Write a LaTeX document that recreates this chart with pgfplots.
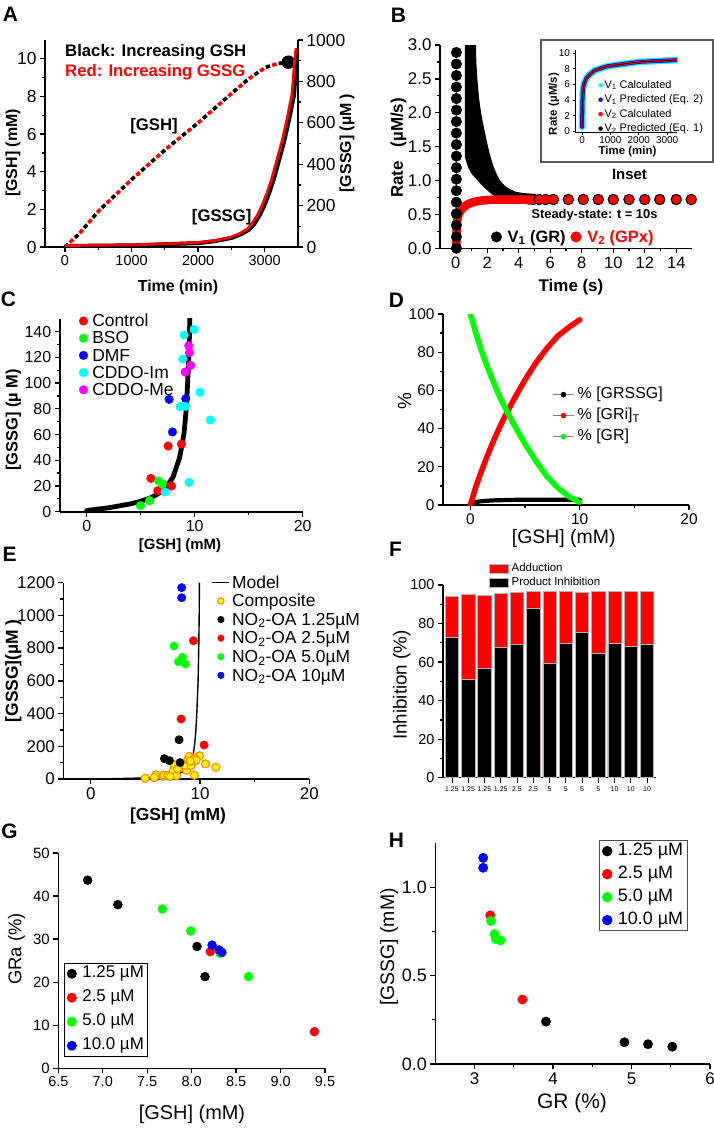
\documentclass[border=0pt]{standalone}
\usepackage{fontspec}
\setmainfont{Liberation Sans}
\usepackage{pgfplots}
\pgfplotsset{compat=1.18}
\newcommand{\fs}[1]{\fontsize{#1}{#1}\selectfont}
\definecolor{orng}{RGB}{255,140,0}
\definecolor{ccyan}{RGB}{0,255,255}
\definecolor{mmag}{RGB}{255,0,255}
\definecolor{yyel}{RGB}{255,255,0}
\definecolor{ggreen}{RGB}{0,255,0}
\pgfplotsset{
  base/.style={scale only axis, anchor=north west,
    axis x line*=bottom, axis y line*=left,
    axis line style={line width=1.6bp, black},
    every tick/.style={black, line width=1.3bp},
    major tick length=5bp, minor tick length=3bp, tick align=outside,
    /pgf/number format/assume math mode=true,
    /pgf/number format/1000 sep={},
    legend cell align=left,
    legend style={draw=none, fill=none}},
  mleg/.style={legend image code/.code={\draw[##1] plot coordinates {(#1,0bp)};}},
  lleg/.style={legend image code/.code={\draw[##1] (0bp,0bp) -- (#1,0bp);}},
  dleg/.style={legend image code/.code={\draw[gray, line width=0.5bp] (0bp,0bp) -- (21bp,0bp); \draw[##1] plot coordinates {(10.5bp,0bp)};}},
  bleg/.style={legend image code/.code={\draw[##1] (0bp,-4.5bp) rectangle (19bp,4.5bp);}},
}
\begin{document}
\begin{tikzpicture}
\useasboundingbox (0,0) rectangle (714bp,-1129bp);

% ================= A =================
\begin{axis}[base, at={(45bp,-40bp)}, width=253bp, height=207bp,
  xmin=-300, xmax=3500, ymin=0, ymax=11,
  xtick={0,1000,2000,3000}, minor x tick num=1,
  ytick={0,2,...,10}, minor y tick num=1,
  xticklabel style={font=\fs{14.5}}, yticklabel style={font=\fs{17.5}}]
\addplot[black, line width=3.6bp, dash pattern=on 4.5bp off 9bp] coordinates {
 (0,0.0) (215,0.71) (515,1.95) (1015,3.63) (1515,5.2) (2015,6.64) (2515,8.2) (2765,8.95) (3015,9.55) (3200,9.75) (3355,9.82)};
\addplot[red, line width=3.6bp, dash pattern=on 4.5bp off 9bp, dash phase=6.75bp] coordinates {
 (0,0.0) (215,0.71) (515,1.95) (1015,3.63) (1515,5.2) (2015,6.64) (2515,8.2) (2765,8.95) (3015,9.55) (3200,9.75) (3355,9.82)};
\addplot[only marks, mark=*, mark size=6.5bp, black] coordinates {(3355,9.82)};
\end{axis}
\begin{axis}[base, at={(45bp,-40bp)}, width=253bp, height=207bp,
  xmin=-300, xmax=3500, ymin=0, ymax=1000,
  axis x line=none, axis y line*=right,
  ytick={0,200,...,1000}, minor y tick num=1,
  yticklabel style={font=\fs{17.5}}]
\addplot[black, line width=4bp] coordinates {
 (0,5) (1015,8) (2015,19) (2265,29) (2515,45) (2665,65) (2765,84) (2840,110) (2915,148) (2990,197) (3065,258) (3140,331) (3215,419) (3290,508) (3365,613) (3440,734) (3480,895) (3500,960)};
\addplot[red, line width=2.7bp] coordinates {
 (0,7) (1015,10) (2015,22) (2265,32) (2490,47) (2635,67) (2735,86) (2810,113) (2885,151) (2960,200) (3035,262) (3110,335) (3185,423) (3260,512) (3335,618) (3410,740) (3450,900) (3470,960)};
\end{axis}
\node[font=\fs{21}\bfseries] at (10.5bp,-14bp) {A};
\node[rotate=90, font=\fs{16}\bfseries] at (13bp,-153bp) {[GSH] (mM)};
\node[rotate=90, font=\fs{16}\bfseries] at (347bp,-143bp) {[GSSG] (µM )};
\node[font=\fs{16}\bfseries] at (178bp,-287bp) {Time (min)};
\node[anchor=west, font=\fs{16.8}\bfseries, inner sep=0pt] at (65bp,-52bp) {Black: Increasing GSH};
\node[anchor=west, font=\fs{16.8}\bfseries, text=red, inner sep=0pt] at (65bp,-72bp) {Red: Increasing GSSG};
\node[font=\fs{16.8}\bfseries] at (154bp,-126bp) {[GSH]};
\node[font=\fs{16.8}\bfseries] at (221.7bp,-217.5bp) {[GSSG]};

% ================= B =================
\begin{axis}[base, at={(440bp,-45bp)}, width=252bp, height=203.3bp,
  xmin=-1, xmax=15, ymin=0, ymax=3,
  xtick={0,2,...,14}, minor x tick num=1,
  ytick={0,0.5,...,3}, minor y tick num=1,
  xticklabel style={font=\fs{16.5}},
  yticklabel style={font=\fs{17}, /pgf/number format/.cd, fixed, fixed zerofill, precision=1},
  legend columns=2,
  legend style={at={(0.19,0.056)}, anchor=west, font=\fs{16.5}\bfseries,
     /tikz/every odd column/.append style={column sep=4bp},
     /tikz/every even column/.append style={column sep=3bp}}]
\addlegendimage{only marks, mark=*, mark size=5.3bp, black, mleg=0bp}
\addlegendentry{V\textsubscript{1} (GR)}
\addlegendimage{only marks, mark=*, mark size=5.3bp, red, mleg=0bp}
\addlegendentry{\color{red}V\textsubscript{2} (GPx)}
% V1 column at t ~ 0
\addplot[forget plot, only marks, mark=*, mark size=5.3bp, black] coordinates {
 (0.04,0) (0.04,0.17) (0.04,0.34) (0.04,0.51) (0.04,0.68) (0.04,0.85) (0.04,1.02) (0.04,1.19) (0.04,1.36) (0.04,1.53)
 (0.04,1.70) (0.04,1.87) (0.04,2.04) (0.04,2.21) (0.04,2.38) (0.04,2.55) (0.04,2.72) (0.04,2.89)};
% V1 second column and decay (overlapping branches)
\addplot[forget plot, black, line width=10.6bp, line cap=round, line join=round] coordinates {
 (0.91,3.3) (0.91,1.36) (1.1,1.22) (1.3,1.14) (1.65,1.05) (2.0,0.96) (2.49,0.86) (3.0,0.8) (3.5,0.765) (4.0,0.742) (4.5,0.73) (5.0,0.722)};
\addplot[forget plot, black, line width=10.6bp, line cap=round, line join=round] coordinates {
 (0.91,1.7) (1.2,1.4) (1.5,1.22) (1.8,1.1) (2.2,0.99) (2.6,0.9) (3.0,0.83)};
\addplot[forget plot, black, line width=10.6bp, line cap=round, line join=round] coordinates {
 (0.91,2.0) (1.1,1.75) (1.3,1.55) (1.5,1.4) (1.75,1.25) (2.0,1.12) (2.3,1.0) (2.6,0.92) (3.0,0.84) (3.5,0.78)};
\addplot[forget plot, black, line width=10.6bp, line cap=round, line join=round] coordinates {
 (0.93,3.3) (0.95,3.0) (0.97,2.74) (1.05,2.45) (1.15,2.2) (1.3,1.95) (1.5,1.72) (1.7,1.5) (1.92,1.3) (2.1,1.17)
 (2.3,1.06) (2.5,0.97) (2.7,0.91) (2.9,0.86) (3.1,0.82) (3.4,0.785) (3.7,0.76) (4.0,0.745) (4.5,0.73) (5.0,0.722)};
\addplot[forget plot, only marks, mark=*, mark size=5.5bp, black] coordinates {
 (5.3,0.72) (5.7,0.72) (6.2,0.72) (7.15,0.72) (8.1,0.72) (9.05,0.72) (10,0.72) (11,0.72) (12,0.72) (12.95,0.72) (14,0.72) (14.95,0.72)};
% V2
\addplot[forget plot, red, line width=8.5bp, line cap=round, line join=round] coordinates {
 (0.04,-0.1) (0.04,0.08) (0.04,0.16) (0.05,0.24) (0.06,0.31) (0.08,0.37) (0.1,0.42) (0.13,0.46) (0.17,0.49) (0.22,0.52)
 (0.3,0.55) (0.4,0.58) (0.5,0.605) (0.6,0.625) (0.7,0.64) (0.8,0.653) (0.9,0.663) (1.0,0.672) (1.1,0.68) (1.2,0.686)
 (1.3,0.691) (1.4,0.696) (1.5,0.70) (1.6,0.703) (1.7,0.706) (1.8,0.709) (1.9,0.711) (2.0,0.713) (2.2,0.716) (2.4,0.718)
 (2.6,0.72) (3.0,0.72) (4.0,0.72) (5.0,0.72)};
\addplot[forget plot, only marks, mark=*, mark size=4.2bp, red] coordinates {
 (5.3,0.72) (5.7,0.72) (6.2,0.72) (7.15,0.72) (8.1,0.72) (9.05,0.72) (10,0.72) (11,0.72) (12,0.72) (12.95,0.72) (14,0.72) (14.95,0.72)};
\end{axis}
\node[font=\fs{21}\bfseries] at (398.5bp,-15.5bp) {B};
\node[rotate=90, font=\fs{17}\bfseries] at (398.5bp,-148bp) {Rate\hspace{14bp}(µM/s)};
\node[font=\fs{17}\bfseries] at (571bp,-286.7bp) {Time (s)};
\node[font=\fs{12.9}\bfseries] at (594.5bp,-215bp) {Steady-state: t = 10s};
% inset
\draw[line width=2bp, draw=black!65, fill=white] (541bp,-40bp) rectangle (712.5bp,-161.5bp);
\begin{axis}[base, at={(575bp,-49.7bp)}, width=102bp, height=82.6bp,
  xmin=-250, xmax=3350, ymin=-0.1, ymax=10.45,
  xtick={0,1000,2000,3000}, ytick={0,2,...,10},
  axis line style={line width=1bp}, every tick/.style={black, line width=0.8bp},
  major tick length=2.5bp,
  tick label style={font=\fs{10}},
  xticklabel style={yshift=1.5bp}, yticklabel style={xshift=1bp},
  legend style={at={(0.2,0.67)}, anchor=north west, font=\fs{11},
    /tikz/every odd column/.append style={column sep=1.5bp},
    nodes={inner sep=0.5bp, text height=8.5bp, text depth=2.5bp}, row sep=2.5bp}]
\addlegendimage{only marks, mark=*, mark size=2bp, ccyan, mleg=0bp}
\addlegendentry{V\textsubscript{1} Calculated}
\addlegendimage{only marks, mark=*, mark size=2bp, blue, mleg=0bp}
\addlegendentry{V\textsubscript{1} Predicted (Eq. 2)}
\addlegendimage{only marks, mark=*, mark size=2bp, red, mleg=0bp}
\addlegendentry{V\textsubscript{2} Calculated}
\addlegendimage{only marks, mark=*, mark size=2bp, black, mleg=0bp}
\addlegendentry{V\textsubscript{2} Predicted (Eq. 1)}
\addplot[forget plot, ccyan, line width=6.5bp, line cap=round, line join=round] coordinates {
 (0,0.6) (5,2) (10,3.5) (20,4.8) (40,5.6) (80,6.2) (150,6.8) (270,7.3) (450,7.8) (680,8.1) (900,8.35) (1210,8.5) (1600,8.7) (2035,8.9) (2600,9.0) (3210,9.1) (3350,9.12)};
\addplot[forget plot, blue, line width=4bp, line cap=round, line join=round] coordinates {
 (0,0.6) (5,2) (10,3.5) (20,4.8) (40,5.6) (80,6.2) (150,6.8) (270,7.3) (450,7.8) (680,8.1) (900,8.35) (1210,8.5) (1600,8.7) (2035,8.9) (2600,9.0) (3210,9.1) (3350,9.12)};
\addplot[forget plot, red, line width=2.4bp, line cap=round, line join=round] coordinates {
 (0,0.6) (5,2) (10,3.5) (20,4.8) (40,5.6) (80,6.2) (150,6.8) (270,7.3) (450,7.8) (680,8.1) (900,8.35) (1210,8.5) (1600,8.7) (2035,8.9) (2600,9.0) (3210,9.1) (3350,9.12)};
\addplot[forget plot, black, line width=0.7bp, line join=round] coordinates {
 (0,0.6) (5,2) (10,3.5) (20,4.8) (40,5.6) (80,6.2) (150,6.8) (270,7.3) (450,7.8) (680,8.1) (900,8.35) (1210,8.5) (1600,8.7) (2035,8.9) (2600,9.0) (3210,9.1) (3350,9.12)};
\end{axis}
\node[rotate=90, font=\fs{11.5}\bfseries] at (554bp,-104bp) {Rate\hspace{4bp}(µM/s)};
\node[font=\fs{11.5}\bfseries] at (627.5bp,-152bp) {Time (min)};
\node[font=\fs{15}\bfseries] at (629.5bp,-174bp) {Inset};

% ================= C =================
\begin{axis}[base, at={(59.7bp,-318.8bp)}, width=243bp, height=192.9bp,
  xmin=-2.5, xmax=20, ymin=0, ymax=150,
  xtick={0,10,20}, minor x tick num=1,
  ytick={0,20,...,140}, minor y tick num=1,
  tick label style={font=\fs{16}},
  legend style={at={(0.067,1.035)}, anchor=north west, font=\fs{17.5},
    /tikz/every odd column/.append style={column sep=4bp},
    nodes={inner sep=0.5bp, text height=12bp, text depth=0.5bp}, row sep=3.7bp}]
\addplot[forget plot, black, line width=4.8bp, line cap=round] coordinates {
 (0,1) (1,2) (2,3) (3,4.5) (4,6) (4.9,7.8) (6,11) (7,16) (7.4,19.4) (8,27) (8.6,42) (9.0,60) (9.2,78) (9.3,93) (9.4,110) (9.5,133) (9.58,160)};
\addplot[only marks, mark=*, mark size=4.3bp, red, mleg=0bp] coordinates {(5.94,25.9) (6.58,16.3) (7.54,51.1) (7.85,20.0) (8.77,52.6)};
\addlegendentry{Control}
\addplot[only marks, mark=*, mark size=4.3bp, ggreen, mleg=0bp] coordinates {(4.98,4.7) (5.82,8.6) (6.68,23.9) (7.02,21.5)};
\addlegendentry{BSO}
\addplot[only marks, mark=*, mark size=4.3bp, blue, mleg=0bp] coordinates {(7.63,87.4) (7.94,62.0) (9.17,87.9)};
\addlegendentry{DMF}
\addplot[only marks, mark=*, mark size=4.3bp, ccyan, mleg=0bp] coordinates {(7.26,15.3) (9.48,22.8) (8.65,81.7) (9.17,81.9) (8.89,118.7) (9.02,137.4) (9.94,141.8) (10.49,92.8) (11.45,71.3)};
\addlegendentry{CDDO-Im}
\addplot[only marks, mark=*, mark size=4.3bp, mmag, mleg=0bp] coordinates {(9.45,129.1) (9.51,123.7) (9.63,113.8) (9.11,108.6)};
\addlegendentry{CDDO-Me}
\end{axis}
\node[font=\fs{21}\bfseries] at (8.5bp,-299.5bp) {C};
\node[rotate=90, font=\fs{16.5}\bfseries] at (13.3bp,-420bp) {[GSSG] (µ M)};
\node[font=\fs{15}\bfseries] at (180bp,-546bp) {[GSH] (mM)};

% ================= D =================
\begin{axis}[base, at={(443bp,-314bp)}, width=246bp, height=191bp,
  xmin=-2.5, xmax=20, ymin=0, ymax=100,
  xtick={0,10,20}, minor x tick num=1,
  ytick={0,20,...,100}, minor y tick num=1,
  tick label style={font=\fs{15.5}},
  legend style={at={(0.433,0.63)}, anchor=north west, font=\fs{16},
    /tikz/every odd column/.append style={column sep=3bp},
    nodes={inner sep=0.5bp, text height=11.5bp, text depth=3bp}, row sep=5.5bp}]
\addlegendimage{only marks, mark=*, mark size=2.6bp, black, dleg}
\addlegendentry{\% [GRSSG]}
\addlegendimage{only marks, mark=*, mark size=2.6bp, red, dleg}
\addlegendentry{\% [GRi]\textsubscript{T}}
\addlegendimage{only marks, mark=*, mark size=2.6bp, ggreen, dleg}
\addlegendentry{\% [GR]}
\addplot[forget plot, black, line width=4.2bp, line cap=round] coordinates {
 (0.2,0.8) (0.5,1.5) (1,2) (2,2.4) (4,2.7) (6,2.8) (8,2.8) (10,2.7)};
\addplot[forget plot, red, line width=5.5bp, line cap=round] coordinates {
 (0,0) (0.5,9.5) (1,17.5) (1.5,25) (2,32) (2.5,38.5) (3,44.5) (3.26,47.5) (4,55.5) (5,65.5) (6,74.5) (7,82) (8,88.5) (9,93) (10,97)};
\addplot[forget plot, ggreen, line width=5.5bp, line cap=round] coordinates {
 (0,100) (0.5,90) (1,81) (1.5,73) (2,66) (2.5,59) (3,53) (3.26,50) (4,42) (5,32) (6,23) (7,15) (8,9) (9,4.5) (10,1.5)};
\end{axis}
\node[font=\fs{21}\bfseries] at (396.5bp,-300.5bp) {D};
\node[rotate=90, font=\fs{19}] at (404.7bp,-400.8bp) {\%};
\node[font=\fs{19.5}] at (563.7bp,-538bp) {[GSH] (mM)};

% ================= E =================
\begin{axis}[base, at={(63.4bp,-582.7bp)}, width=246bp, height=196.3bp,
  xmin=-2.5, xmax=20, ymin=0, ymax=1200,
  xtick={0,10,20}, minor x tick num=1,
  ytick={0,200,...,1200}, minor y tick num=1,
  tick label style={font=\fs{17}},
  legend style={at={(0.59,1.05)}, anchor=north west, font=\fs{17.5},
    /tikz/every odd column/.append style={column sep=1.5bp},
    nodes={inner sep=0.5bp, text height=12.5bp, text depth=1bp}, row sep=4.1bp}]
\addlegendimage{black, line width=1.4bp, lleg=17bp}
\addlegendentry{Model}
\addlegendimage{only marks, mark=*, mark size=3.2bp, mark options={fill=yyel, draw=orng, line width=1.1bp}, mleg=8.5bp}
\addlegendentry{Composite}
\addlegendimage{only marks, mark=*, mark size=3.3bp, black, mleg=8.5bp}
\addlegendentry{NO\textsubscript{2}-OA 1.25µM}
\addlegendimage{only marks, mark=*, mark size=3.3bp, red, mleg=8.5bp}
\addlegendentry{NO\textsubscript{2}-OA 2.5µM}
\addlegendimage{only marks, mark=*, mark size=3.3bp, ggreen, mleg=8.5bp}
\addlegendentry{NO\textsubscript{2}-OA 5.0µM}
\addlegendimage{only marks, mark=*, mark size=3.3bp, blue, mleg=8.5bp}
\addlegendentry{NO\textsubscript{2}-OA 10µM}
\addplot[forget plot, only marks, mark=*, mark size=4bp, mark options={fill=yyel, draw=orng, line width=1.2bp}] coordinates {
 (5.94,25.9) (6.58,16.3) (7.54,51.1) (7.85,20.0) (8.77,52.6) (4.98,4.7) (5.82,8.6) (6.68,23.9) (7.02,21.5)
 (7.63,87.4) (7.94,62.0) (9.17,87.9) (7.26,15.3) (9.48,22.8) (8.65,81.7) (9.17,81.9) (8.89,118.7) (9.02,137.4)
 (9.94,141.8) (10.49,92.8) (11.45,71.3) (9.45,129.1) (9.51,123.7) (9.63,113.8) (9.11,108.6)};
\addplot[forget plot, black, line width=1.4bp] coordinates {
 (0,0) (2,2) (4,5) (5,7) (6,11) (7,18) (8,32) (8.63,50) (9.0,70) (9.24,100) (9.48,198) (9.6,280) (9.7,400) (9.82,600) (9.88,800) (9.92,1000) (9.94,1200)};
\addplot[forget plot, only marks, mark=*, mark size=4.2bp, black] coordinates {(8.08,240) (6.74,124) (7.2,112) (8.17,100)};
\addplot[forget plot, only marks, mark=*, mark size=4.2bp, red] coordinates {(9.39,845) (8.26,367) (10.37,208)};
\addplot[forget plot, only marks, mark=*, mark size=4.2bp, ggreen] coordinates {(7.62,813) (8.38,744) (8.02,717) (8.66,703)};
\addplot[forget plot, only marks, mark=*, mark size=4.2bp, blue] coordinates {(8.32,1170) (8.32,1108)};
\end{axis}
\node[font=\fs{21}\bfseries] at (9.5bp,-554.5bp) {E};
\node[rotate=90, font=\fs{17.5}\bfseries] at (13.3bp,-670.7bp) {[GSSG](µM )};
\node[font=\fs{17.5}\bfseries] at (178bp,-815.7bp) {[GSH] (mM)};

% ================= F =================
\begin{axis}[base, at={(443bp,-585bp)}, width=213bp, height=192.7bp,
  xmin=-0.55, xmax=12.55, ymin=0, ymax=100,
  axis line style={line width=1.4bp},
  xtick={0,...,12},
  xticklabels={1.25,1.25,1.25,1.25,2.5,2.5,5,5,5,5,10,10,10},
  xticklabel style={font=\fs{7}},
  x tick style={line width=0.8bp},
  ytick={0,20,...,100}, minor y tick num=1,
  yticklabel style={font=\fs{14.5}},
  legend style={at={(0.203,1.125)}, anchor=north west, font=\fs{11.5},
    /tikz/every odd column/.append style={column sep=2bp},
    nodes={inner sep=0.5bp, text height=8bp, text depth=2bp}, row sep=3bp}]
\addplot[ybar, bar width=13.3bp, bar shift=0pt, fill=red, draw=gray!60, line width=0.7bp, bleg] coordinates {
 (0,94.1) (1,95.0) (2,94.6) (3,95.8) (4,96.2) (5,96.5) (6,96.5) (7,96.5) (8,96.2) (9,96.5) (10,96.5) (11,96.5) (12,96.5)};
\addlegendentry{Adduction}
\addplot[ybar, bar width=13.3bp, bar shift=0pt, fill=black, draw=gray!60, line width=0.7bp, bleg] coordinates {
 (0,72.8) (1,51.2) (2,56.9) (3,67.6) (4,69.0) (5,88.1) (6,59.5) (7,69.9) (8,75.3) (9,64.7) (10,69.9) (11,68.3) (12,69.4)};
\addlegendentry{Product Inhibition}
\end{axis}
\node[font=\fs{21}\bfseries] at (395.5bp,-549.5bp) {F};
\node[rotate=90, font=\fs{18.9}] at (401.8bp,-685bp) {Inhibition (\%)};

% ================= G =================
\begin{axis}[base, at={(58.3bp,-853bp)}, width=266.7bp, height=215.3bp,
  xmin=6.5, xmax=9.5, ymin=0, ymax=50,
  axis line style={line width=1.4bp},
  xtick={6.5,7,...,9.5}, ytick={0,10,...,50},
  xticklabel style={font=\fs{14.5}, /pgf/number format/.cd, fixed, fixed zerofill, precision=1},
  yticklabel style={font=\fs{15}},
  legend style={at={(0.021,0.489)}, anchor=north west, font=\fs{17}, draw=black, line width=0.9bp, fill=white,
    inner xsep=3bp, inner ysep=1.5bp,
    /tikz/every odd column/.append style={column sep=5bp},
    nodes={inner sep=1bp, text height=12bp, text depth=3.5bp}, row sep=6.5bp}]
\addplot[only marks, mark=*, mark size=4.5bp, black, mleg=0bp] coordinates {(6.83,43.7) (7.17,38.0) (8.06,28.3) (8.15,21.3)};
\addlegendentry{1.25 µM}
\addplot[only marks, mark=*, mark size=4.5bp, red, mleg=0bp] coordinates {(8.21,27.1) (9.38,8.5)};
\addlegendentry{2.5 µM}
\addplot[only marks, mark=*, mark size=4.5bp, ggreen, mleg=0bp] coordinates {(7.67,37.0) (7.99,31.9) (8.32,26.7) (8.64,21.3)};
\addlegendentry{5.0 µM}
\addplot[only marks, mark=*, mark size=4.5bp, blue, mleg=0bp] coordinates {(8.23,28.6) (8.31,27.5) (8.34,26.9)};
\addlegendentry{10.0 µM}
\end{axis}
\node[font=\fs{21}\bfseries] at (9.5bp,-831.5bp) {G};
\node[rotate=90, font=\fs{18.5}] at (16.7bp,-949bp) {GRa (\%)};
\node[font=\fs{20}] at (192bp,-1114bp) {[GSH] (mM)};

% ================= H =================
\begin{axis}[base, at={(435.3bp,-843bp)}, width=274.7bp, height=221bp,
  xmin=2.5, xmax=6, ymin=0, ymax=1.25,
  axis line style={line width=1.4bp},
  xtick={3,4,5,6}, minor x tick num=1,
  ytick={0,0.5,1}, minor y tick num=1,
  xticklabel style={font=\fs{17}},
  yticklabel style={font=\fs{18}, /pgf/number format/.cd, fixed, fixed zerofill, precision=1},
  legend style={at={(0.596,1.014)}, anchor=north west, font=\fs{18}, draw=black!70, line width=1bp, fill=white,
    inner xsep=3bp, inner ysep=1.5bp,
    /tikz/every odd column/.append style={column sep=5bp},
    nodes={inner sep=1bp, text height=12.5bp, text depth=4bp}, row sep=4.5bp}]
\addplot[only marks, mark=*, mark size=4.7bp, black, mleg=0bp] coordinates {(3.91,0.240) (4.91,0.123) (5.21,0.112) (5.52,0.098)};
\addlegendentry{1.25 µM}
\addplot[only marks, mark=*, mark size=4.7bp, red, mleg=0bp] coordinates {(3.20,0.841) (3.61,0.365)};
\addlegendentry{2.5 µM}
\addplot[only marks, mark=*, mark size=4.7bp, ggreen, mleg=0bp] coordinates {(3.21,0.809) (3.255,0.735) (3.27,0.707) (3.33,0.699)};
\addlegendentry{5.0 µM}
\addplot[only marks, mark=*, mark size=4.7bp, blue, mleg=0bp] coordinates {(3.11,1.166) (3.11,1.11)};
\addlegendentry{10.0 µM}
\end{axis}
\node[font=\fs{21}\bfseries] at (396.5bp,-840.5bp) {H};
\node[rotate=90, font=\fs{19.5}] at (389bp,-947bp) {[GSSG] (mM)};
\node[font=\fs{21}] at (572bp,-1103bp) {GR (\%)};
\end{tikzpicture}
\end{document}
